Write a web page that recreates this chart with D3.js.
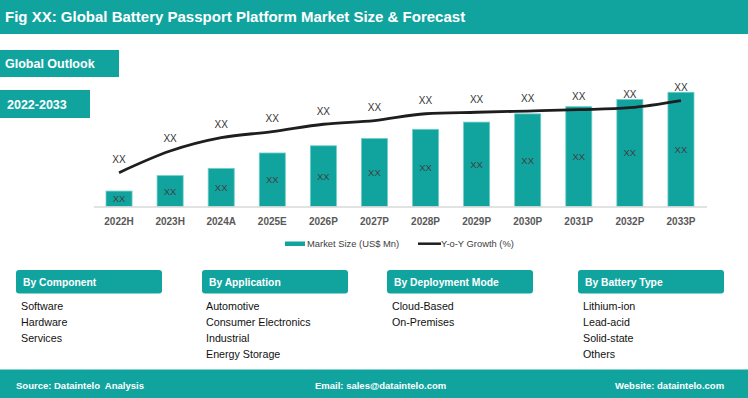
<!DOCTYPE html>
<html>
<head>
<meta charset="utf-8">
<script src="https://cdn.jsdelivr.net/npm/d3@7"></script>
<style>
  body { margin: 0; background: #fff; }
  svg { display: block; font-family: "Liberation Sans", Arial, sans-serif; }
  text { white-space: pre; }
</style>
</head>
<body>
<script>
// chart data
var years = ["2022H", "2023H", "2024A", "2025E", "2026P", "2027P", "2028P", "2029P", "2030P", "2031P", "2032P", "2033P"];
var marketSize = [1.5, 3.0, 3.7, 5.2, 5.9, 6.6, 7.5, 8.2, 9.0, 9.7, 10.4, 11.1];
var growth = [2.74, 4.49, 5.57, 6.06, 6.66, 6.95, 7.51, 7.63, 7.73, 7.84, 8.0, 8.57];
var barLabels = ["XX", "XX", "XX", "XX", "XX", "XX", "XX", "XX", "XX", "XX", "XX", "XX"];
var lineLabels = ["XX", "XX", "XX", "XX", "XX", "XX", "XX", "XX", "XX", "XX", "XX", "XX"];

var segTitles = ["By Component", "By Application", "By Deployment Mode", "By Battery Type"];
var segItems = [
  ["Software", "Hardware", "Services"],
  ["Automotive", "Consumer Electronics", "Industrial", "Energy Storage"],
  ["Cloud-Based", "On-Premises"],
  ["Lithium-ion", "Lead-acid", "Solid-state", "Others"]
];

var teal = "#11a49f";
var W = 748, H = 398;

var svg = d3.select("body").append("svg")
  .attr("width", W)
  .attr("height", H);

// title band
svg.append("rect").attr("x", 0).attr("y", 0).attr("width", W).attr("height", 34).attr("fill", teal);
svg.append("text")
  .attr("x", 5).attr("y", 22.3)
  .attr("fill", "#fff").attr("font-size", "15px").attr("font-weight", "bold")
  .text("Fig XX: Global Battery Passport Platform Market Size & Forecast");

// side tags
svg.append("rect").attr("x", 0).attr("y", 50).attr("width", 119).attr("height", 27).attr("fill", teal);
svg.append("text").attr("x", 5).attr("y", 68)
  .attr("fill", "#fff").attr("font-size", "12.5px").attr("font-weight", "bold")
  .text("Global Outlook");
svg.append("rect").attr("x", 0).attr("y", 90).attr("width", 90).attr("height", 28).attr("fill", teal);
svg.append("text").attr("x", 7).attr("y", 109)
  .attr("fill", "#fff").attr("font-size", "12.5px").attr("font-weight", "bold")
  .text("2022-2033");

// scales
var x = d3.scaleBand()
  .domain(years)
  .range([93.5, 706.5])
  .paddingInner(0.49)
  .paddingOuter(0.245);

var y = d3.scaleLinear().domain([0, 12]).range([206.5, 83]);
var y2 = d3.scaleLinear().domain([0, 10]).range([206.5, 83]);

var g = svg.append("g");

// bars
g.selectAll(".bar")
  .data(marketSize)
  .enter().append("rect")
  .attr("class", "bar")
  .attr("x", function(d, i) { return x(years[i]); })
  .attr("y", function(d) { return y(d); })
  .attr("width", x.bandwidth())
  .attr("height", function(d) { return y(0) - y(d); })
  .attr("fill", teal)
  .attr("stroke", "#6fcdc8")
  .attr("stroke-width", 0.8);

// bar labels
g.selectAll(".barlab")
  .data(marketSize)
  .enter().append("text")
  .attr("x", function(d, i) { return x(years[i]) + x.bandwidth() / 2; })
  .attr("y", function(d) { return (y(d) + y(0)) / 2 + 3.5; })
  .attr("text-anchor", "middle")
  .attr("font-size", "9.5px")
  .attr("fill", "#404040")
  .text(function(d, i) { return barLabels[i]; });

// x axis
var xAxis = g.append("g")
  .attr("transform", "translate(0,206.5)")
  .call(d3.axisBottom(x).tickSize(0).tickPadding(11));
xAxis.select(".domain").attr("stroke", "#d9d9d9").attr("stroke-width", 1.5);
xAxis.selectAll("text")
  .attr("font-family", "Liberation Sans, Arial, sans-serif")
  .attr("font-size", "10px")
  .attr("font-weight", "bold")
  .attr("fill", "#595959");

// growth line
var line = d3.line()
  .x(function(d, i) { return x(years[i]) + x.bandwidth() / 2; })
  .y(function(d) { return y2(d); })
  .curve(d3.curveMonotoneX);

g.append("path")
  .datum(growth)
  .attr("d", line)
  .attr("fill", "none")
  .attr("stroke", "#1e1e1e")
  .attr("stroke-width", 2.8);

g.selectAll(".linelab")
  .data(growth)
  .enter().append("text")
  .attr("x", function(d, i) { return x(years[i]) + x.bandwidth() / 2; })
  .attr("y", function(d) { return y2(d) - 9.5; })
  .attr("text-anchor", "middle")
  .attr("font-size", "10px")
  .attr("fill", "#333")
  .text(function(d, i) { return lineLabels[i]; });

// legend
var leg = svg.append("g");
leg.append("rect").attr("x", 285).attr("y", 241.5).attr("width", 20).attr("height", 4.5).attr("fill", teal);
leg.append("text").attr("x", 307).attr("y", 247)
  .attr("font-size", "9.4px").attr("fill", "#404040")
  .text("Market Size (US$ Mn)");
leg.append("line").attr("x1", 418).attr("x2", 441).attr("y1", 243.7).attr("y2", 243.7)
  .attr("stroke", "#1e1e1e").attr("stroke-width", 2.5);
leg.append("text").attr("x", 441).attr("y", 247)
  .attr("font-size", "9.4px").attr("fill", "#404040")
  .text("Y-o-Y Growth (%)");

// segment panels
var boxX = [16, 202, 387, 578];
var itemX = [21, 206, 392, 583];
segTitles.forEach(function(t, i) {
  svg.append("rect")
    .attr("x", boxX[i]).attr("y", 270).attr("width", 146).attr("height", 23.5)
    .attr("rx", 3).attr("ry", 3).attr("fill", teal);
  svg.append("text")
    .attr("x", boxX[i] + 7).attr("y", 286)
    .attr("fill", "#fff").attr("font-size", "10.3px").attr("font-weight", "bold")
    .text(t);
  svg.selectAll(".item" + i)
    .data(segItems[i])
    .enter().append("text")
    .attr("x", itemX[i])
    .attr("y", function(d, j) { return 309.5 + j * 16; })
    .attr("font-size", "10.7px")
    .attr("fill", "#111")
    .text(function(d) { return d; });
});

// footer
svg.append("rect").attr("x", 0).attr("y", 369.5).attr("width", W).attr("height", H - 369.5).attr("fill", teal);
var foot = [
  {x: 16, t: "Source: Dataintelo  Analysis"},
  {x: 315, t: "Email: sales@dataintelo.com"},
  {x: 615, t: "Website: dataintelo.com"}
];
foot.forEach(function(f) {
  svg.append("text").attr("x", f.x).attr("y", 388.5)
    .attr("fill", "#fff").attr("font-size", "9.5px").attr("font-weight", "bold")
    .text(f.t);
});
</script>
</body>
</html>
